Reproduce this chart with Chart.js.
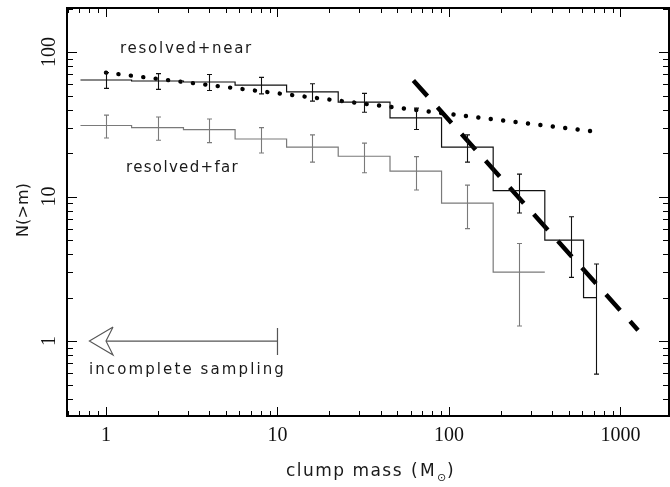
<!DOCTYPE html>
<html>
<head>
<meta charset="utf-8">
<script src="https://cdn.jsdelivr.net/npm/chart.js@4/dist/chart.umd.min.js"></script>
<style>
  html, body { margin: 0; padding: 0; background: #fff; }
  canvas { display: block; }
</style>
</head>
<body>
<canvas id="chart" width="670" height="487"></canvas>
<script>
// resolved+near : N(>m) per clump mass bin
const nearMass = [1, 2, 4, 8, 16, 32, 64, 128, 256, 512, 724];
const nearN    = [64, 63, 62, 59, 53, 45, 35, 22, 11, 5, 2];
const nearErr  = [8, 7.9, 7.9, 7.7, 7.3, 6.7, 5.9, 4.7, 3.3, 2.24, 1.41];
const nearEdges = [0.71, 1.41, 2.83, 5.66, 11.3, 22.6, 45.3, 90.5, 181, 362, 609, 724];

// resolved+far
const farMass = [1, 2, 4, 8, 16, 32, 64, 128, 256];
const farN    = [31, 30, 29, 25, 22, 19, 15, 9, 3];
const farErr  = [5.6, 5.5, 5.4, 5, 4.7, 4.4, 3.9, 3, 1.73];
const farEdges = [0.71, 1.41, 2.83, 5.66, 11.3, 22.6, 45.3, 90.5, 181, 362];

// power-law fits (end points)
const shallowFitX = [1, 700];
const shallowFitY = [72, 28.2];
const steepFitX = [62, 1265];
const steepFitY = [63.5, 1.19];

// "incomplete sampling" arrow
const arrowShaftX = [10, 1];
const arrowHeadX = [1.1, 0.8, 1.1, 1, 1.1];
const arrowHeadY = [1.25, 1, 0.8, 1, 1.25];
const arrowBarY = [1.23, 0.8];

const xTickLabels = [1, 10, 100, 1000];
const yTickLabels = [1, 10, 100];

const BLACK = '#111';
const GREY = '#7a7a7a';

function stepPoints(edges, values) {
  const pts = values.map((v, i) => ({ x: edges[i], y: v }));
  pts.push({ x: edges[edges.length - 1], y: values[values.length - 1] });
  return pts;
}

function pairs(xs, ys) {
  return xs.map((x, i) => ({ x, y: ys[i] }));
}

const lineBase = { pointRadius: 0, fill: false, tension: 0 };

// error bars, ticks, frame and texts
const decorPlugin = {
  id: 'decor',
  afterDatasetsDraw(chart) {
    const ctx = chart.ctx;
    const xs = chart.scales.x, ys = chart.scales.y;
    const a = chart.chartArea;

    function errBars(mass, n, err, color) {
      ctx.save();
      ctx.strokeStyle = color;
      ctx.lineWidth = 1.1;
      mass.forEach((m, i) => {
        const px = Math.round(xs.getPixelForValue(m)) + 0.5;
        const top = ys.getPixelForValue(n[i] + err[i]);
        const bot = ys.getPixelForValue(n[i] - err[i]);
        ctx.beginPath();
        ctx.moveTo(px, top); ctx.lineTo(px, bot);
        ctx.moveTo(px - 2.5, top); ctx.lineTo(px + 2.5, top);
        ctx.moveTo(px - 2.5, bot); ctx.lineTo(px + 2.5, bot);
        ctx.stroke();
      });
      ctx.restore();
    }
    errBars(farMass, farN, farErr, GREY);
    errBars(nearMass, nearN, nearErr, BLACK);

    // frame + inward ticks
    ctx.save();
    ctx.strokeStyle = '#000';
    ctx.lineWidth = 1;
    ctx.beginPath();
    for (let d = -1; d <= 3; d++) {
      for (let k = 1; k <= 9; k++) {
        const v = k * Math.pow(10, d);
        if (v < xs.min || v > xs.max) continue;
        const px = Math.round(xs.getPixelForValue(v)) + 0.5;
        const len = k === 1 ? 9 : 5;
        ctx.moveTo(px, a.bottom); ctx.lineTo(px, a.bottom - len);
        ctx.moveTo(px, a.top); ctx.lineTo(px, a.top + len);
      }
    }
    for (let d = -1; d <= 2; d++) {
      for (let k = 1; k <= 9; k++) {
        const v = k * Math.pow(10, d);
        if (v < ys.min || v > ys.max) continue;
        const py = Math.round(ys.getPixelForValue(v)) + 0.5;
        const len = k === 1 ? 10 : 6;
        ctx.moveTo(a.left, py); ctx.lineTo(a.left + len, py);
        ctx.moveTo(a.right, py); ctx.lineTo(a.right - len, py);
      }
    }
    ctx.stroke();
    ctx.lineWidth = 2;
    ctx.strokeRect(a.left, a.top, a.right - a.left, a.bottom - a.top);
    ctx.restore();

    // tick labels
    ctx.save();
    ctx.fillStyle = '#111';
    ctx.font = '20px "Liberation Serif"';
    ctx.textAlign = 'center';
    ctx.textBaseline = 'alphabetic';
    xTickLabels.forEach(v => ctx.fillText(String(v), xs.getPixelForValue(v), 441));
    yTickLabels.forEach(v => {
      ctx.save();
      ctx.translate(55, ys.getPixelForValue(v));
      ctx.rotate(-Math.PI / 2);
      ctx.fillText(String(v), 0, 0);
      ctx.restore();
    });
    ctx.restore();

    // text fitted to a target width, returns the end x
    function fitText(text, x, y, width, size, rot) {
      ctx.save();
      ctx.font = size + 'px "DejaVu Sans"';
      ctx.fillStyle = '#1a1a1a';
      ctx.textBaseline = 'alphabetic';
      ctx.textAlign = 'left';
      const w = ctx.measureText(text).width;
      ctx.letterSpacing = ((width - w) / text.length).toFixed(2) + 'px';
      ctx.translate(x, y);
      if (rot) ctx.rotate(rot);
      ctx.fillText(text, 0, 0);
      ctx.restore();
      return x + width;
    }
    fitText('resolved+near', 120, 53, 133, 15);
    fitText('resolved+far', 126, 172, 113, 15);
    fitText('incomplete sampling', 89, 374, 197, 15);
    fitText('N(>m)', 28, 237, 54, 16, -Math.PI / 2);

    // x axis title with subscript sun symbol
    let x0 = fitText('clump mass', 286, 476, 117, 17);
    x0 = fitText('(M', x0 + 8, 476, 26, 17);
    ctx.save();
    ctx.fillStyle = '#1a1a1a';
    ctx.font = '11px "DejaVu Sans"';
    ctx.fillText('\u2299', x0, 481);
    ctx.restore();
    fitText(')', x0 + 10, 476, 7, 17);
  }
};

new Chart(document.getElementById('chart'), {
  type: 'line',
  data: {
    datasets: [
      { ...lineBase, label: 'resolved+far', data: stepPoints(farEdges, farN),
        borderColor: GREY, borderWidth: 1.2, stepped: true },
      { ...lineBase, label: 'resolved+near', data: stepPoints(nearEdges, nearN),
        borderColor: BLACK, borderWidth: 1.2, stepped: true },
      { ...lineBase, label: 'shallow fit', data: pairs(shallowFitX, shallowFitY),
        borderColor: '#000', borderWidth: 4.4, borderDash: [0.1, 12.4], borderCapStyle: 'round' },
      { ...lineBase, label: 'steep fit', data: pairs(steepFitX, steepFitY),
        borderColor: '#000', borderWidth: 4.5, borderDash: [21, 15], borderCapStyle: 'butt' },
      { ...lineBase, label: 'arrow shaft', data: pairs(arrowShaftX, [1, 1]),
        borderColor: '#555', borderWidth: 1.2 },
      { ...lineBase, label: 'arrow head', data: pairs(arrowHeadX, arrowHeadY),
        borderColor: '#555', borderWidth: 1.1 },
      { ...lineBase, label: 'arrow bar', data: pairs([10, 10], arrowBarY),
        borderColor: '#555', borderWidth: 1.2 }
    ]
  },
  options: {
    responsive: false,
    animation: false,
    devicePixelRatio: 1,
    layout: { padding: { left: 67, right: 1, top: 8, bottom: 71 } },
    plugins: { legend: { display: false }, tooltip: { enabled: false } },
    scales: {
      x: { type: 'logarithmic', display: false, bounds: 'data', min: 0.5925, max: 1918 },
      y: { type: 'logarithmic', display: false, bounds: 'data', min: 0.303, max: 201.6 }
    }
  },
  plugins: [decorPlugin]
});
</script>
</body>
</html>
